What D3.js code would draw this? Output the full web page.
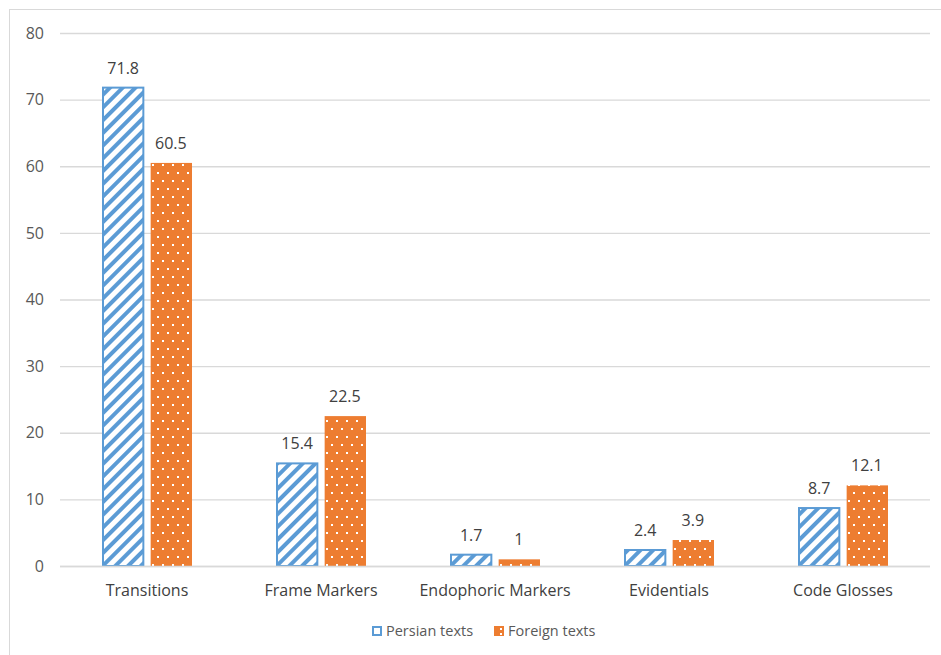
<!DOCTYPE html>
<html lang='en'>
  <head>
    <style type='text/css'>
      body {margin: 0; background-color: #fff;}
      svg text {font-family: "Open Sans", "Noto Sans", sans-serif;}
    </style>
  </head>
  <body>
    <svg id='chart' width='941' height='655'></svg>

    <script src='https://d3js.org/d3.v7.min.js'></script>
    <script type='text/javascript'>
        // data
        var categories = ["Transitions", "Frame Markers", "Endophoric Markers", "Evidentials", "Code Glosses"];
        var persian = [71.8, 15.4, 1.7, 2.4, 8.7];
        var foreign = [60.5, 22.5, 1, 3.9, 12.1];
        var seriesNames = ["Persian texts", "Foreign texts"];
        var yTicks = [0, 10, 20, 30, 40, 50, 60, 70, 80];

        var blue = "#5B9BD5", orange = "#ED7D31";
        var svg = d3.select("#chart");

        // outer chart frame (right and bottom edges fall outside the picture)
        svg.append("rect")
            .attr("x", 9.5).attr("y", 9.5)
            .attr("width", 960).attr("height", 660)
            .attr("fill", "none").attr("stroke", "#d9d9d9");

        // patterns
        var defs = svg.append("defs");
        var stripes = defs.append("pattern")
            .attr("id", "stripes")
            .attr("patternUnits", "userSpaceOnUse")
            .attr("width", 9).attr("height", 9)
            .attr("patternTransform", "rotate(45)");
        stripes.append("rect").attr("width", 9).attr("height", 9).attr("fill", "#fff");
        stripes.append("rect").attr("width", 4).attr("height", 9).attr("fill", blue);

        var dots = defs.append("pattern")
            .attr("id", "dots")
            .attr("patternUnits", "userSpaceOnUse")
            .attr("width", 10).attr("height", 16);
        dots.append("rect").attr("width", 10).attr("height", 16).attr("fill", orange);
        dots.append("rect").attr("x", 2).attr("y", 3).attr("width", 2).attr("height", 2).attr("fill", "#fff");
        dots.append("rect").attr("x", 7).attr("y", 11).attr("width", 2).attr("height", 2).attr("fill", "#fff");

        var margin = {left: 60, right: 11, top: 33, bottom: 89};
        var width = 941 - margin.left - margin.right;
        var height = 655 - margin.top - margin.bottom;
        var g = svg.append("g").attr("transform", "translate(" + margin.left + "," + margin.top + ")");

        var x = d3.scaleBand().domain(categories).range([0, width]);
        var y = d3.scaleLinear().domain([0, 80]).range([height, 0]);

        // gridlines + y labels
        var yAxis = g.append("g").call(d3.axisLeft(y).tickValues(yTicks).tickSize(-width).tickPadding(16));
        yAxis.select(".domain").remove();
        yAxis.selectAll(".tick line").attr("stroke", "#d9d9d9").attr("stroke-width", 1.3);
        yAxis.selectAll(".tick text").attr("fill", "#595959").attr("font-size", 16);

        var barW = 40, gap = 10;
        var inner = d3.scaleBand().domain([0, 1]).range([x.bandwidth() / 2 - barW - gap / 2, x.bandwidth() / 2 + barW + gap / 2]).paddingInner(gap / (2 * barW + gap));

        var rows = categories.map(function(c, i) { return {cat: c, vals: [persian[i], foreign[i]]}; });
        var grp = g.selectAll("g.cat").data(rows).enter().append("g")
            .attr("class", "cat")
            .attr("transform", function(d) { return "translate(" + x(d.cat) + ",0)"; });

        grp.selectAll("rect").data(function(d) { return d.vals; }).enter().append("rect")
            .attr("x", function(d, i) { return inner(i) + (i === 0 ? 1 : 1); })
            .attr("width", function(d, i) { return inner.bandwidth() - (i === 0 ? 2 : 1); })
            .attr("y", function(d) { return y(d); })
            .attr("height", function(d) { return height - y(d); })
            .attr("fill", function(d, i) { return i === 0 ? "url(#stripes)" : "url(#dots)"; })
            .attr("stroke", function(d, i) { return i === 0 ? blue : "none"; })
            .attr("stroke-width", 2);

        grp.selectAll("text.val").data(function(d) { return d.vals; }).enter().append("text")
            .attr("class", "val")
            .attr("x", function(d, i) { return inner(i) + inner.bandwidth() / 2; })
            .attr("y", function(d) { return y(d) - 14; })
            .attr("text-anchor", "middle")
            .attr("fill", "#404040")
            .attr("font-size", 16)
            .text(function(d) { return d; });

        // baseline
        g.append("line").attr("x1", 0).attr("x2", width).attr("y1", height + 0.5).attr("y2", height + 0.5)
            .attr("stroke", "#d9d9d9").attr("stroke-width", 1.3);

        // category labels
        var xAxis = g.append("g").attr("transform", "translate(0," + height + ")")
            .call(d3.axisBottom(x).tickSize(0).tickPadding(19));
        xAxis.select(".domain").remove();
        xAxis.selectAll(".tick text").attr("fill", "#404040").attr("font-size", 16);

        // legend
        var legend = svg.append("g").attr("transform", "translate(372,631)");
        var items = [{name: seriesNames[0], x: 0}, {name: seriesNames[1], x: 122}];
        items.forEach(function(it, i) {
            var lg = legend.append("g").attr("transform", "translate(" + it.x + ",0)");
            if (i === 0) {
                lg.append("rect").attr("x", 1).attr("y", -4).attr("width", 8).attr("height", 8)
                    .attr("fill", "#fff").attr("stroke", blue).attr("stroke-width", 2);
            } else {
                lg.append("rect").attr("x", 0).attr("y", -5).attr("width", 10).attr("height", 10).attr("fill", orange);
                lg.append("rect").attr("x", 6).attr("y", -3).attr("width", 2).attr("height", 2).attr("fill", "#fff");
                lg.append("rect").attr("x", 6).attr("y", 2).attr("width", 2).attr("height", 2).attr("fill", "#fff");
            }
            lg.append("text").attr("x", 14).attr("y", 0).attr("dy", "0.35em")
                .attr("fill", "#595959").attr("font-size", 14.5).text(it.name);
        });
    </script>
  </body>
</html>
